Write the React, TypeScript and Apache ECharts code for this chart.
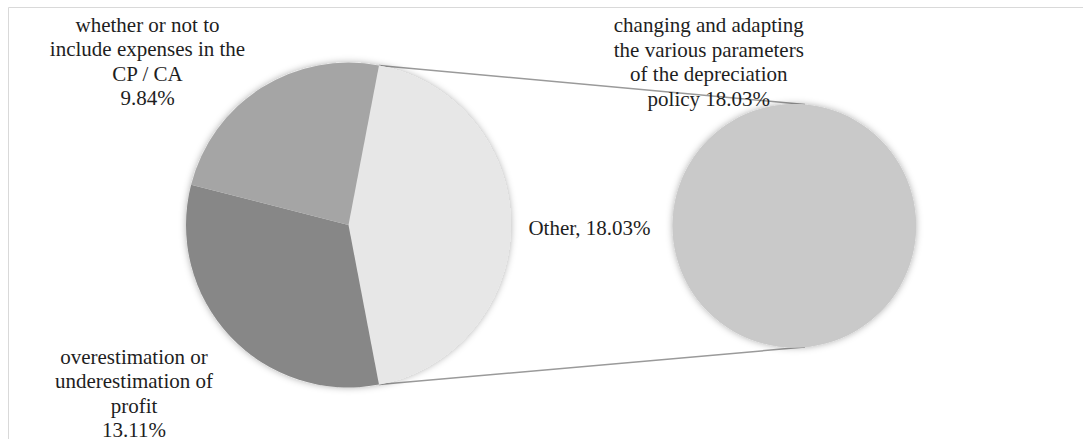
import React, { useEffect, useRef } from "react";
import * as echarts from "echarts";

// Primary pie: individual categories plus the aggregated "Other" slice
const mainCategories = [
  "whether or not to\ninclude expenses in the\nCP / CA",
  "overestimation or\nunderestimation of\nprofit",
];
const mainValues = [9.84, 13.11];
const otherCategory = "Other";

// Secondary pie: breakdown of "Other"
const detailCategories = [
  "changing and adapting\nthe various parameters\nof the depreciation\npolicy",
];
const detailValues = [18.03];

const FONT = "Liberation Serif";
const TEXT = "#1e1e1e";

export default function App() {
  const ref = useRef<HTMLDivElement>(null);

  useEffect(() => {
    if (!ref.current) return;
    const chart = echarts.init(ref.current, undefined, { renderer: "svg" });

    const otherValue = detailValues.reduce((a, b) => a + b, 0);
    const total = mainValues.reduce((a, b) => a + b, 0) + otherValue;
    const otherSweep = (otherValue / total) * 360;

    // geometry
    const leftC = [348.5, 225];
    const leftR = 162.5;
    const rightC = [794.3, 225.8];
    const rightR = 121.7;

    const rad = (d: number) => (d * Math.PI) / 180;
    // "Other" slice is centred on the right-hand side of the primary pie
    const edge = 90 - otherSweep / 2; // degrees clockwise from 12 o'clock
    const lTop = [leftC[0] + leftR * Math.sin(rad(edge)), leftC[1] - leftR * Math.cos(rad(edge))];
    const lBot = [leftC[0] + leftR * Math.sin(rad(edge)), leftC[1] + leftR * Math.cos(rad(edge))];
    const rTop = [rightC[0] + rightR * Math.sin(rad(5)), rightC[1] - rightR * Math.cos(rad(5))];
    const rBot = [rightC[0] + rightR * Math.sin(rad(5)), rightC[1] + rightR * Math.cos(rad(5))];

    // label anchors for the primary pie, in slice order
    const leftLabelPos: [number, number][] = [
      [589.5, 228],
      [134, 393.5],
      [147.5, 61.5],
    ];

    const fmtPct = (v: number) => v.toFixed(2) + "%";

    const shadowStyle = {
      shadowBlur: 7,
      shadowColor: "rgba(0,0,0,0.32)",
      shadowOffsetX: 0,
      shadowOffsetY: 0,
    };

    const labelText = {
      show: true,
      position: "outside",
      color: TEXT,
      fontFamily: FONT,
      fontSize: 21,
      lineHeight: 24.5,
      align: "center",
    };

    chart.setOption({
      animation: false,
      backgroundColor: "#ffffff",
      textStyle: { fontFamily: FONT },
      graphic: [
        {
          type: "rect",
          silent: true,
          z: -10,
          shape: { x: 8.5, y: 7.5, width: 1200, height: 600 },
          style: { fill: "none", stroke: "#d9d9d9", lineWidth: 1 },
        },
        {
          type: "line",
          silent: true,
          z: 1,
          shape: { x1: lTop[0], y1: lTop[1], x2: rTop[0], y2: rTop[1] },
          style: { stroke: "#9a9a9a", lineWidth: 1.5 },
        },
        {
          type: "line",
          silent: true,
          z: 1,
          shape: { x1: lBot[0], y1: lBot[1], x2: rBot[0], y2: rBot[1] },
          style: { stroke: "#9a9a9a", lineWidth: 1.5 },
        },
      ],
      series: [
        // soft drop shadow discs behind both pies
        {
          type: "pie",
          silent: true,
          center: leftC,
          radius: leftR,
          label: { show: false },
          labelLine: { show: false },
          itemStyle: { color: "#e7e7e7", ...shadowStyle },
          data: [{ value: total }],
        },
        {
          type: "pie",
          silent: true,
          center: rightC,
          radius: rightR,
          label: { show: false },
          labelLine: { show: false },
          itemStyle: { color: "#c9c9c9", ...shadowStyle },
          data: [{ value: otherValue }],
        },
        {
          type: "pie",
          center: leftC,
          radius: leftR,
          startAngle: 90 - edge,
          clockwise: true,
          avoidLabelOverlap: false,
          itemStyle: { borderWidth: 0 },
          label: {
            ...labelText,
            formatter: (p: any) =>
              p.name === otherCategory
                ? `${p.name}, ${fmtPct(p.value)}`
                : `${p.name}\n${fmtPct(p.value)}`,
          },
          labelLine: { show: false },
          labelLayout: (p: any) => {
            const pos = leftLabelPos[p.dataIndex] || [0, 0];
            return { x: pos[0], y: pos[1], align: "center", verticalAlign: "middle" };
          },
          data: [
            { name: otherCategory, value: otherValue, itemStyle: { color: "#e7e7e7" } },
            { name: mainCategories[1], value: mainValues[1], itemStyle: { color: "#878787" } },
            { name: mainCategories[0], value: mainValues[0], itemStyle: { color: "#a5a5a5" } },
          ],
        },
        {
          type: "pie",
          center: rightC,
          radius: rightR,
          startAngle: 90,
          avoidLabelOverlap: false,
          itemStyle: { borderWidth: 0 },
          label: {
            ...labelText,
            formatter: (p: any) => `${p.name} ${fmtPct(p.value)}`,
          },
          labelLine: { show: false },
          labelLayout: () => ({ x: 708.8, y: 62, align: "center", verticalAlign: "middle" }),
          data: detailCategories.map((n, i) => ({
            name: n,
            value: detailValues[i],
            itemStyle: { color: "#c9c9c9" },
          })),
        },
      ],
    });

    return () => chart.dispose();
  }, []);

  return (
    <div
      ref={ref}
      style={{ position: "absolute", left: 0, top: 0, width: 1083, height: 439 }}
    />
  );
}
